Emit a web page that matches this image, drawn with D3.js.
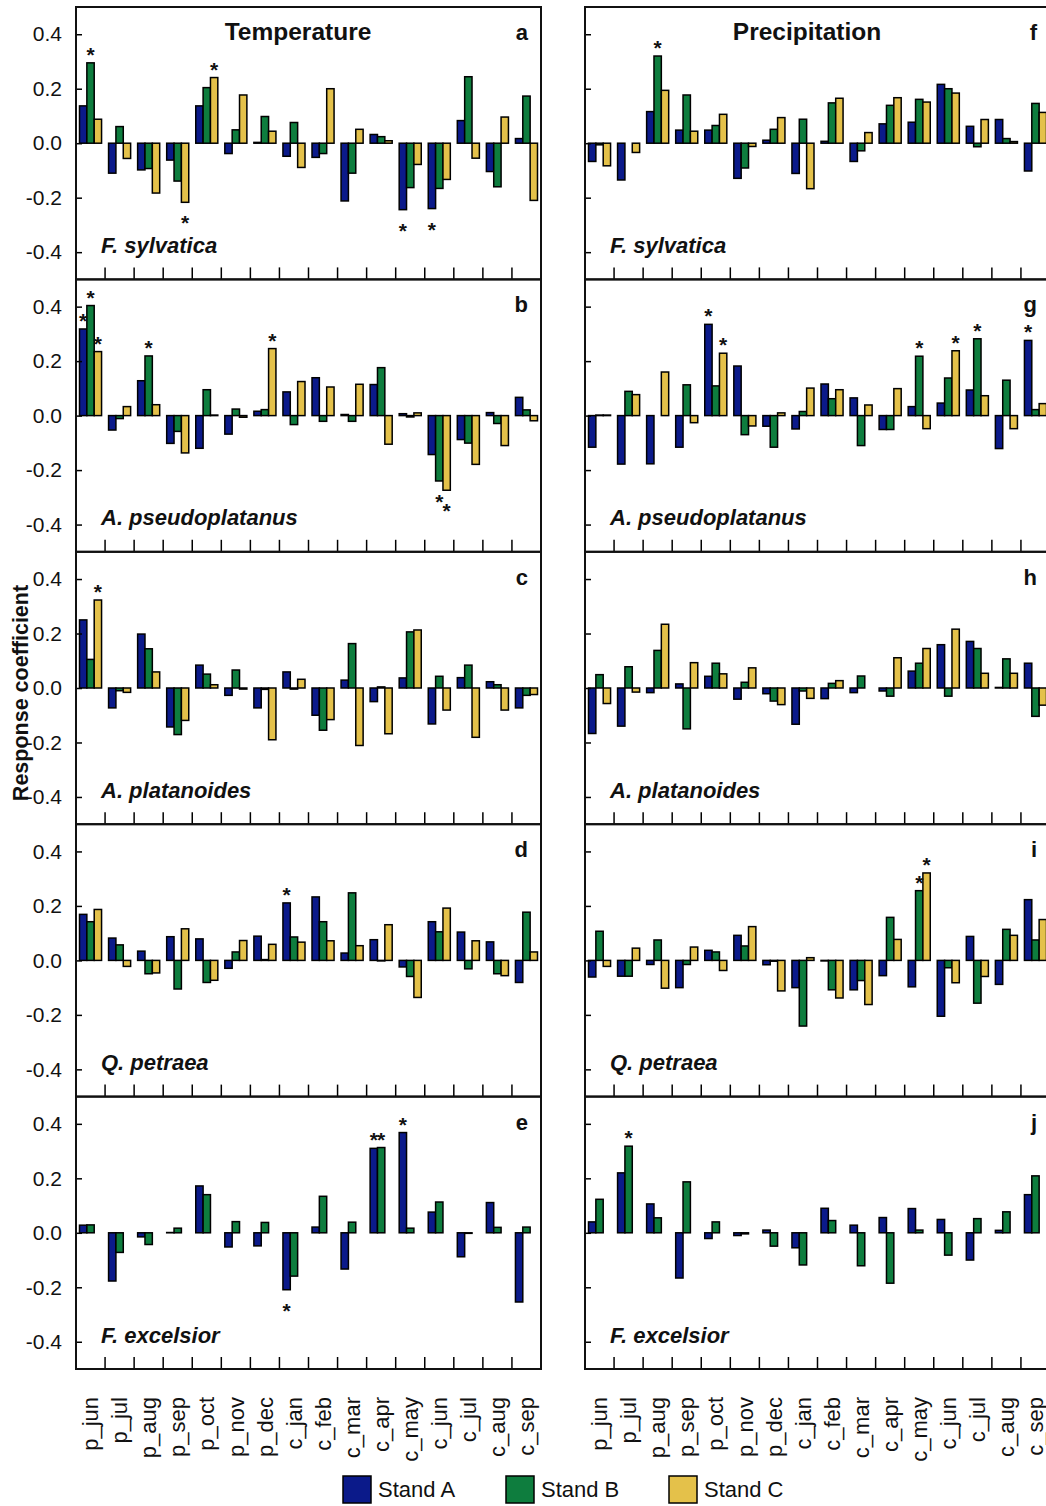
<!DOCTYPE html>
<html>
<head>
<meta charset="utf-8">
<script src="https://cdn.jsdelivr.net/npm/d3@7"></script>
<style>
body {margin:0; background:#fff;}
svg {display:block; font-family:"Liberation Sans", Arial, sans-serif;}
</style>
</head>
<body>
<div id="chart"></div>
<script>
var months = ["p_jun","p_jul","p_aug","p_sep","p_oct","p_nov","p_dec","c_jan","c_feb","c_mar","c_apr","c_may","c_jun","c_jul","c_aug","c_sep"];
var stands = ["Stand A","Stand B","Stand C"];
var colors = ["#0b1a8a","#0e7d3e","#e4c14a"];
var species = ["F. sylvatica","A. pseudoplatanus","A. platanoides","Q. petraea","F. excelsior"];
var yTicks = [-0.4,-0.2,0,0.2,0.4];

// temperature responses, one array per stand (A, B, C)
var tempFsyl = [
    [0.137,-0.11,-0.098,-0.062,0.137,-0.038,0.003,-0.048,-0.052,-0.212,0.032,-0.244,-0.24,0.083,-0.104,0.017],
    [0.295,0.061,-0.093,-0.139,0.204,0.049,0.098,0.076,-0.038,-0.11,0.024,-0.163,-0.166,0.244,-0.16,0.173],
    [0.088,-0.056,-0.183,-0.217,0.241,0.177,0.044,-0.089,0.2,0.051,0.009,-0.078,-0.133,-0.055,0.096,-0.21]];
var tempApse = [
    [0.318,-0.053,0.128,-0.102,-0.12,-0.068,0.016,0.087,0.139,0.004,0.114,0.007,-0.143,-0.088,0.011,0.067],
    [0.404,-0.011,0.219,-0.058,0.095,0.024,0.022,-0.033,-0.021,-0.021,0.176,-0.005,-0.24,-0.101,-0.029,0.021],
    [0.235,0.033,0.04,-0.137,0.002,-0.006,0.246,0.125,0.105,0.115,-0.105,0.01,-0.274,-0.179,-0.11,-0.019]];
var tempApla = [
    [0.25,-0.073,0.198,-0.143,0.084,-0.027,-0.073,0.059,-0.1,0.029,-0.05,0.037,-0.132,0.038,0.023,-0.073],
    [0.105,-0.01,0.144,-0.171,0.051,0.066,-0.005,-0.004,-0.155,0.163,0.004,0.206,0.043,0.084,0.012,-0.027],
    [0.323,-0.016,0.059,-0.119,0.012,-0.004,-0.19,0.032,-0.116,-0.211,-0.168,0.213,-0.081,-0.181,-0.081,-0.024]];
var tempQpet = [
    [0.169,0.082,0.034,0.087,0.079,-0.029,0.089,0.211,0.233,0.027,0.076,-0.024,0.142,0.104,0.068,-0.081],
    [0.142,0.057,-0.049,-0.105,-0.081,0.031,0.003,0.086,0.142,0.248,-0.002,-0.059,0.105,-0.031,-0.049,0.177],
    [0.187,-0.022,-0.046,0.116,-0.073,0.073,0.059,0.067,0.072,0.054,0.131,-0.136,0.192,0.072,-0.056,0.031]];
var tempFexc = [
    [0.028,-0.177,-0.015,0.001,0.172,-0.052,-0.048,-0.209,0.021,-0.133,0.31,0.368,0.076,-0.088,0.111,-0.254],
    [0.029,-0.072,-0.043,0.017,0.14,0.041,0.038,-0.159,0.134,0.039,0.313,0.017,0.113,-0.002,0.02,0.021]];

// precipitation responses
var precFsyl = [
    [-0.067,-0.135,0.116,0.048,0.048,-0.129,0.011,-0.111,0.007,-0.067,0.071,0.077,0.216,0.062,0.087,-0.102],
    [-0.006,0,0.32,0.177,0.065,-0.091,0.051,0.088,0.148,-0.028,0.139,0.161,0.2,-0.013,0.017,0.146],
    [-0.083,-0.034,0.194,0.044,0.106,-0.012,0.094,-0.167,0.165,0.039,0.167,0.151,0.184,0.087,0.006,0.113]];
var precApse = [
    [-0.116,-0.178,-0.177,-0.116,0.335,0.182,-0.039,-0.049,0.116,0.065,-0.051,0.033,0.046,0.094,-0.121,0.276],
    [0.002,0.089,0,0.113,0.109,-0.07,-0.116,0.015,0.062,-0.11,-0.051,0.218,0.138,0.282,0.13,0.022],
    [0.002,0.077,0.16,-0.026,0.229,-0.038,0.01,0.101,0.095,0.039,0.099,-0.048,0.238,0.073,-0.048,0.044]];
var precApla = [
    [-0.167,-0.14,-0.017,0.015,0.043,-0.041,-0.021,-0.133,-0.039,-0.017,-0.011,0.062,0.159,0.171,0.002,0.091],
    [0.049,0.078,0.138,-0.15,0.091,0.021,-0.048,-0.011,0.017,0.044,-0.03,0.091,-0.03,0.145,0.107,-0.104],
    [-0.057,-0.015,0.234,0.093,0.052,0.074,-0.061,-0.038,0.027,0,0.111,0.145,0.216,0.054,0.054,-0.063]];
var precQpet = [
    [-0.061,-0.058,-0.015,-0.1,0.037,0.092,-0.016,-0.1,-0.002,-0.108,-0.056,-0.097,-0.205,0.088,-0.088,0.223],
    [0.107,-0.058,0.075,-0.015,0.031,0.053,-0.003,-0.241,-0.108,-0.074,0.158,0.256,-0.027,-0.157,0.114,0.075],
    [-0.022,0.045,-0.102,0.049,-0.037,0.124,-0.112,0.01,-0.138,-0.162,0.077,0.321,-0.082,-0.059,0.092,0.15]];
var precFexc = [
    [0.04,0.22,0.106,-0.166,-0.021,-0.01,0.01,-0.055,0.09,0.028,0.056,0.089,0.049,-0.1,0.009,0.14],
    [0.123,0.318,0.055,0.187,0.04,-0.004,-0.049,-0.118,0.045,-0.121,-0.185,0.01,-0.082,0.052,0.077,0.209]];

// significant coefficients: [month index, stand index]
var starsA = [[0,1],[3,2],[4,2],[11,0],[12,0]];
var starsB = [[0,0],[0,1],[0,2],[2,1],[6,2],[12,1],[12,2]];
var starsC = [[0,2]];
var starsD = [[7,0]];
var starsE = [[7,0],[10,0],[10,1],[11,0]];
var starsF = [[2,1]];
var starsG = [[4,0],[4,2],[11,1],[12,2],[13,1],[15,0]];
var starsH = [];
var starsI = [[11,1],[11,2]];
var starsJ = [[1,1]];

var panels = [
    {col:0, row:0, data:tempFsyl, stars:starsA, letter:"a"},
    {col:0, row:1, data:tempApse, stars:starsB, letter:"b"},
    {col:0, row:2, data:tempApla, stars:starsC, letter:"c"},
    {col:0, row:3, data:tempQpet, stars:starsD, letter:"d"},
    {col:0, row:4, data:tempFexc, stars:starsE, letter:"e"},
    {col:1, row:0, data:precFsyl, stars:starsF, letter:"f"},
    {col:1, row:1, data:precApse, stars:starsG, letter:"g"},
    {col:1, row:2, data:precApla, stars:starsH, letter:"h"},
    {col:1, row:3, data:precQpet, stars:starsI, letter:"i"},
    {col:1, row:4, data:precFexc, stars:starsJ, letter:"j"}
];
var titles = ["Temperature","Precipitation"];

var W = 1046, H = 1506;
var colX = [76, 585], panelW = 465, rowTop = 7, rowH = 272.4;

var svg = d3.select("#chart").append("svg")
    .attr("width", W)
    .attr("height", H);
svg.append("rect").attr("width", W).attr("height", H).attr("fill", "#fff");

var x = d3.scaleBand().domain(months).range([0, panelW]);
var xs = d3.scaleBand().domain([0,1,2]).range([3.5, x.bandwidth() - 3.5]);
var y = d3.scaleLinear().domain([-0.5, 0.5]).range([rowH, 0]);

panels.forEach(drawPanel);

function drawPanel(p) {
    var g = svg.append("g")
        .attr("transform", "translate(" + colX[p.col] + "," + (rowTop + p.row * rowH) + ")");

    // bars
    p.data.forEach(function(vals, s) {
        g.selectAll(null)
            .data(vals)
        .enter().append("rect")
            .attr("x", function(d, i) {return x(months[i]) + xs(s);})
            .attr("y", function(d) {return y(Math.max(0, d));})
            .attr("width", xs.bandwidth())
            .attr("height", function(d) {return Math.abs(y(d) - y(0));})
            .attr("fill", colors[s])
            .attr("stroke", "#000")
            .attr("stroke-width", 1.5);
    });

    // significance stars
    g.selectAll(null)
        .data(p.stars)
    .enter().append("text")
        .attr("x", function(d) {return x(months[d[0]]) + xs(d[1]) + xs.bandwidth() / 2;})
        .attr("y", function(d) {
            var v = p.data[d[1]][d[0]];
            return v >= 0 ? y(v) - 1 : y(v) + 28;
        })
        .attr("text-anchor", "middle")
        .attr("font-size", 21)
        .attr("font-weight", "bold")
        .attr("fill", "#111")
        .text("*");

    // y axis, ticks inward
    var yAxis = d3.axisLeft(y)
        .tickValues(yTicks)
        .tickSize(-6)
        .tickPadding(14)
        .tickFormat(function(d) {return p.col == 0 ? d.toFixed(1) : "";});
    var ya = g.append("g").call(yAxis);
    ya.select(".domain").remove();
    ya.selectAll("line").attr("stroke-width", 1.5);
    ya.selectAll("text").attr("font-size", 21).attr("fill", "#111")
        .attr("font-family", "Liberation Sans, Arial, sans-serif");

    // bottom ticks at category boundaries
    g.selectAll(null)
        .data(months.slice(1))
    .enter().append("line")
        .attr("x1", function(d) {return x(d);})
        .attr("x2", function(d) {return x(d);})
        .attr("y1", rowH)
        .attr("y2", rowH - 12)
        .attr("stroke", "#000")
        .attr("stroke-width", 1.5);

    // frame
    g.append("rect")
        .attr("width", panelW)
        .attr("height", rowH)
        .attr("fill", "none")
        .attr("stroke", "#111")
        .attr("stroke-width", 2);

    g.append("text")
        .attr("x", panelW - 13)
        .attr("y", 33)
        .attr("text-anchor", "end")
        .attr("font-size", 22)
        .attr("font-weight", "bold")
        .attr("fill", "#111")
        .text(p.letter);

    g.append("text")
        .attr("x", 25)
        .attr("y", 246)
        .attr("font-size", 22)
        .attr("font-weight", "bold")
        .attr("font-style", "italic")
        .attr("fill", "#111")
        .text(species[p.row]);

    if (p.row == 0) {
        g.append("text")
            .attr("x", 222)
            .attr("y", 33)
            .attr("text-anchor", "middle")
            .attr("font-size", 24.5)
            .attr("font-weight", "bold")
            .attr("fill", "#111")
            .text(titles[p.col]);
    }

    if (p.row == 4) {
        g.selectAll(null)
            .data(months)
        .enter().append("text")
            .attr("transform", function(d) {
                return "translate(" + (x(d) + x.bandwidth() / 2) + "," + (rowH + 28) + ")rotate(-90)";
            })
            .attr("dy", "0.35em")
            .attr("text-anchor", "end")
            .attr("font-size", 22)
            .attr("fill", "#111")
            .text(function(d) {return d;});
    }
}

// y title
svg.append("text")
    .attr("transform", "translate(28,693)rotate(-90)")
    .attr("text-anchor", "middle")
    .attr("font-size", 21.5)
    .attr("font-weight", "bold")
    .attr("fill", "#111")
    .text("Response coefficient");

// legend
var legend = svg.selectAll(".legend")
    .data(stands)
.enter().append("g")
    .attr("class", "legend")
    .attr("transform", function(d, i) {return "translate(" + (343 + i * 163) + ",1476)";});
legend.append("rect")
    .attr("width", 28)
    .attr("height", 27)
    .attr("fill", function(d, i) {return colors[i];})
    .attr("stroke", "#000")
    .attr("stroke-width", 1.5);
legend.append("text")
    .attr("x", 35)
    .attr("y", 21)
    .attr("font-size", 22)
    .attr("fill", "#111")
    .text(function(d) {return d;});
</script>
</body>
</html>
